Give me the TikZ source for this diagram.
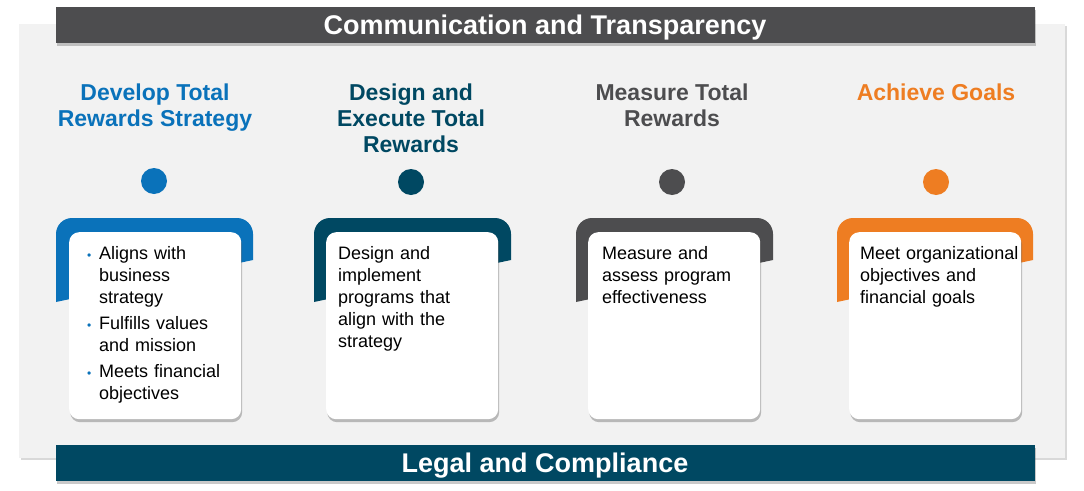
\documentclass[tikz,border=0pt]{standalone}
\usepackage{fontspec}
\setmainfont{Liberation Sans}
\usepackage{tikz}
\usetikzlibrary{positioning,shadows}
\definecolor{rwblue}{HTML}{0A72BA}
\definecolor{rwteal}{HTML}{004862}
\definecolor{rwgray}{HTML}{4D4D4F}
\definecolor{rworange}{HTML}{EE7D22}
\definecolor{rwpanel}{HTML}{F2F2F2}
\newcommand{\rwbul}{\leavevmode\llap{\textcolor{rwblue}{\fontsize{12}{12}\selectfont\textbullet}\hspace{8pt}}}
\newcommand{\rwgap}{\par\vspace{4pt}}

\begin{document}
\begin{tikzpicture}[x=1pt, y=-1pt,
		head/.style={font=\bfseries\fontsize{23}{26}\selectfont, align=center, anchor=north, inner sep=0pt},
		dot/.style={circle, minimum size=26pt, inner sep=0pt},
		card/.style={fill=white, rounded corners=10pt, minimum width=172pt, minimum height=187pt, anchor=north west,
			drop shadow={shadow xshift=1pt, shadow yshift=-3pt, opacity=.35, fill=black!70}},
		cardtext/.style={font=\fontsize{18}{22}\selectfont, text width=170pt, align=left, inner sep=0pt},
		bar/.style={minimum width=979pt, minimum height=36pt, inner sep=0pt, text depth=0pt, text=white,
			font=\bfseries\fontsize{27}{30}\selectfont,
			drop shadow={shadow xshift=1pt, shadow yshift=-3pt, opacity=.3, fill=black!70}}]
	\useasboundingbox (0,0) rectangle (1084,490);
	\fill[rwpanel, drop shadow={shadow xshift=2pt, shadow yshift=-2pt, opacity=.25, fill=black!60}] (19,24) rectangle (1065,458);
	\node[bar, fill=rwgray] (TB) 	at (545,25) 	{Communication and Transparency};
	\node[bar, fill=rwteal] (BB) 	at (545,463) 	{Legal and Compliance};

	\node[head, text=rwblue] (H1) 		at (155,84) 	{Develop Total\\Rewards Strategy};
	\node[head, text=rwteal] (H2) 		at (411,84) 	{Design and\\Execute Total\\Rewards};
	\node[head, text=rwgray] (H3) 		at (672,84) 	{Measure Total\\Rewards};
	\node[head, text=rworange] (H4) 	at (936,84) 	{Achieve Goals};

	\node[dot, fill=rwblue] (D1) 		at (154,181) 	{};
	\node[dot, fill=rwteal] (D2) 		at (411,182) 	{};
	\node[dot, fill=rwgray] (D3) 		at (672,182) 	{};
	\node[dot, fill=rworange] (D4) 		at (936,182) 	{};

	\fill[rwblue] (56,302) [rounded corners=16pt] -- (56,218) -- (253,218) [sharp corners] -- (253,260) -- cycle;
	\fill[rwteal] (314,302) [rounded corners=16pt] -- (314,218) -- (511,218) [sharp corners] -- (511,260) -- cycle;
	\fill[rwgray] (576,302) [rounded corners=16pt] -- (576,218) -- (773,218) [sharp corners] -- (773,260) -- cycle;
	\fill[rworange] (837,302) [rounded corners=16pt] -- (837,218) -- (1033,218) [sharp corners] -- (1033,260) -- cycle;

	\node[card] (K1) 	at (69,232) 	{};
	\node[card] (K2) 	at (326,232) 	{};
	\node[card] (K3) 	at (588,232) 	{};
	\node[card] (K4) 	at (849,232) 	{};

	\node[cardtext, below right=14pt and 30pt of K1.north west] (T1)
		{\rwbul Aligns with\\business\\strategy\rwgap
		\rwbul Fulfills values\\and mission\rwgap
		\rwbul Meets financial\\objectives};
	\node[cardtext, below right=14pt and 12pt of K2.north west] (T2)
		{Design and\\implement\\programs that\\align with the\\strategy};
	\node[cardtext, below right=14pt and 14pt of K3.north west] (T3)
		{Measure and\\assess program\\effectiveness};
	\node[cardtext, below right=14pt and 11pt of K4.north west] (T4)
		{Meet organizational\\objectives and\\financial goals};
\end{tikzpicture}
\end{document}
